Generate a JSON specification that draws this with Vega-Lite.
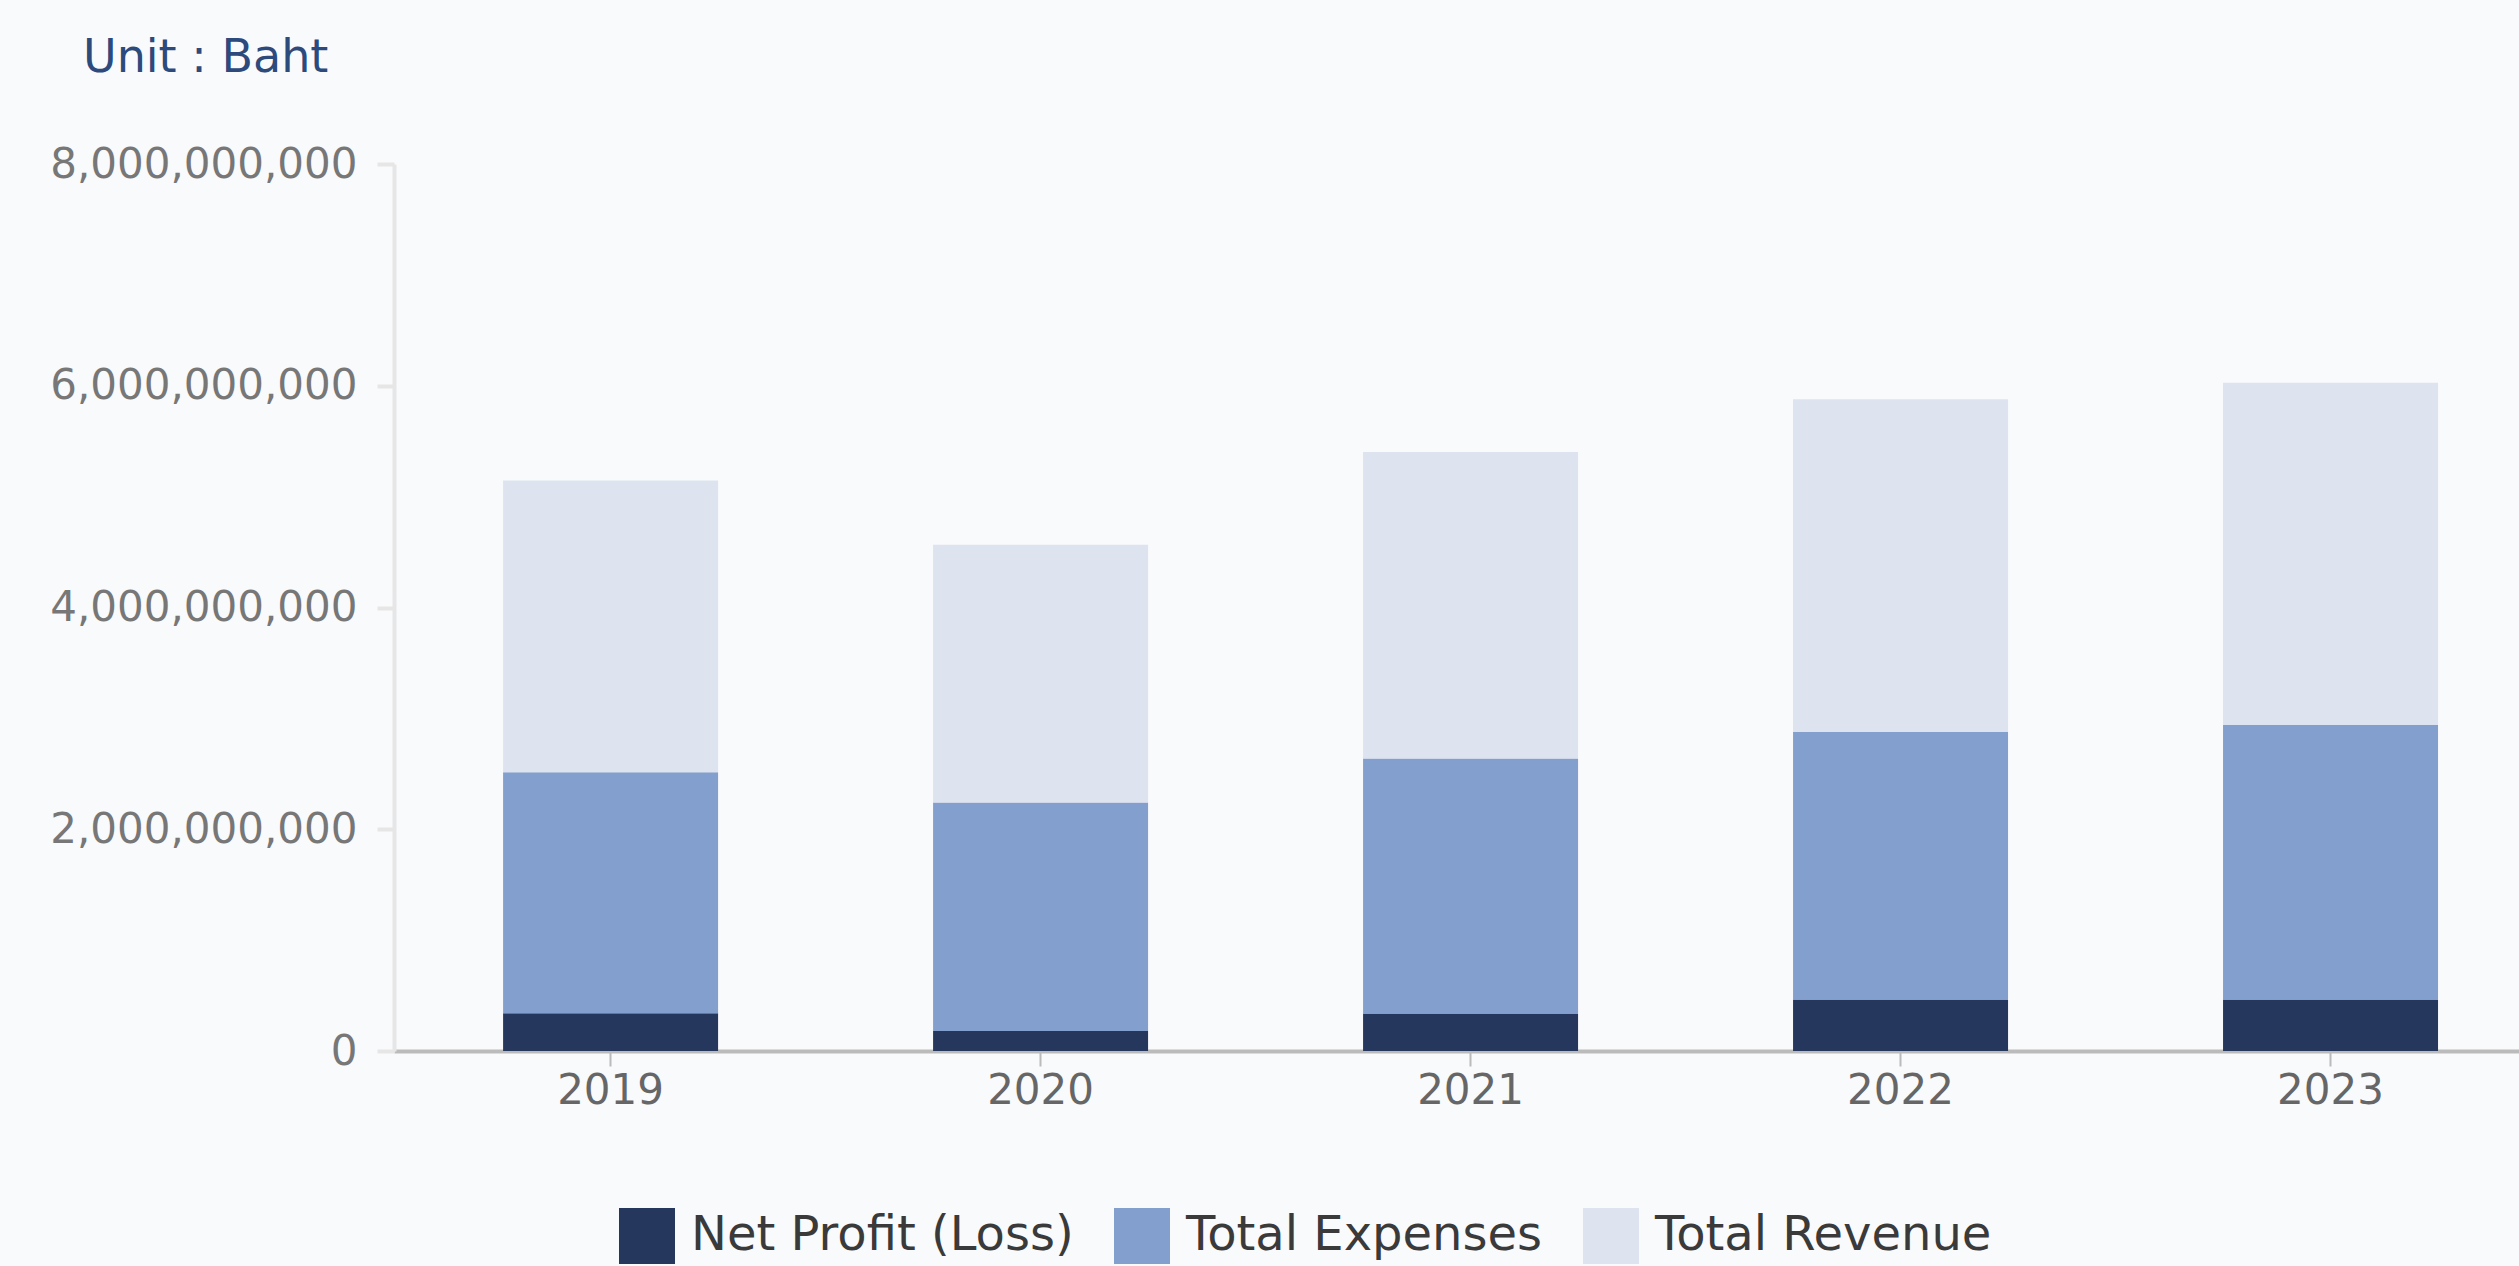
{
  "$schema": "https://vega.github.io/schema/vega-lite/v6.json",
  "autosize": {"type": "none"},
  "width": 2125,
  "height": 887,
  "padding": {"left": 394, "top": 164, "right": 0, "bottom": 215},
  "background": "#f9fafc",
  "title": {
    "text": "Unit : Baht",
    "anchor": "start",
    "frame": "group",
    "orient": "top",
    "dx": -311,
    "offset": 25,
    "baseline": "alphabetic",
    "font": "DejaVu Sans",
    "fontSize": 46,
    "fontWeight": "normal",
    "color": "#2c4a7c"
  },
  "data": {
    "values": [
      {"year": "2019", "type": "Net Profit (Loss)", "value": 340000000},
      {"year": "2019", "type": "Total Expenses", "value": 2175000000},
      {"year": "2019", "type": "Total Revenue", "value": 2630000000},
      {"year": "2020", "type": "Net Profit (Loss)", "value": 181000000},
      {"year": "2020", "type": "Total Expenses", "value": 2061000000},
      {"year": "2020", "type": "Total Revenue", "value": 2323000000},
      {"year": "2021", "type": "Net Profit (Loss)", "value": 339000000},
      {"year": "2021", "type": "Total Expenses", "value": 2300000000},
      {"year": "2021", "type": "Total Revenue", "value": 2764000000},
      {"year": "2022", "type": "Net Profit (Loss)", "value": 465000000},
      {"year": "2022", "type": "Total Expenses", "value": 2414000000},
      {"year": "2022", "type": "Total Revenue", "value": 2999000000},
      {"year": "2023", "type": "Net Profit (Loss)", "value": 465000000},
      {"year": "2023", "type": "Total Expenses", "value": 2478000000},
      {"year": "2023", "type": "Total Revenue", "value": 3084000000}
    ]
  },
  "mark": {"type": "bar"},
  "encoding": {
    "x": {
      "field": "year",
      "type": "nominal",
      "scale": {"paddingInner": 0.5, "paddingOuter": 0.221, "align": 0.574},
      "axis": {
        "title": null,
        "labelAngle": 0,
        "labelFont": "DejaVu Sans",
        "labelFontSize": 42,
        "labelColor": "#666666",
        "labelPadding": 4,
        "domainColor": "#bbbbbb",
        "domainWidth": 4,
        "tickColor": "#bbbbbb",
        "tickWidth": 2,
        "tickSize": 15
      }
    },
    "y": {
      "field": "value",
      "type": "quantitative",
      "stack": "zero",
      "scale": {"domain": [0, 8000000000], "nice": false},
      "axis": {
        "title": null,
        "values": [0, 2000000000, 4000000000, 6000000000, 8000000000],
        "format": ",d",
        "grid": false,
        "labelFont": "DejaVu Sans",
        "labelFontSize": 42,
        "labelColor": "#777777",
        "labelPadding": 20,
        "labelLimit": 1000,
        "domainColor": "#e6e6e6",
        "domainWidth": 4,
        "tickColor": "#e6e6e6",
        "tickWidth": 4,
        "tickSize": 17
      }
    },
    "order": {"field": "type", "sort": "ascending"},
    "color": {
      "field": "type",
      "type": "nominal",
      "scale": {
        "domain": ["Net Profit (Loss)", "Total Expenses", "Total Revenue"],
        "range": ["#26375e", "#839fcd", "#dde3ef"]
      },
      "legend": {
        "title": null,
        "orient": "none",
        "direction": "horizontal",
        "legendX": 225,
        "legendY": 1044,
        "padding": 0,
        "symbolType": "square",
        "symbolSize": 3136,
        "symbolStrokeWidth": 0,
        "labelFont": "DejaVu Sans",
        "labelFontSize": 48,
        "labelColor": "#3a3a3a",
        "labelOffset": 16,
        "columnPadding": 40,
        "labelLimit": 1000
      }
    }
  },
  "config": {
    "view": {"stroke": null}
  }
}
